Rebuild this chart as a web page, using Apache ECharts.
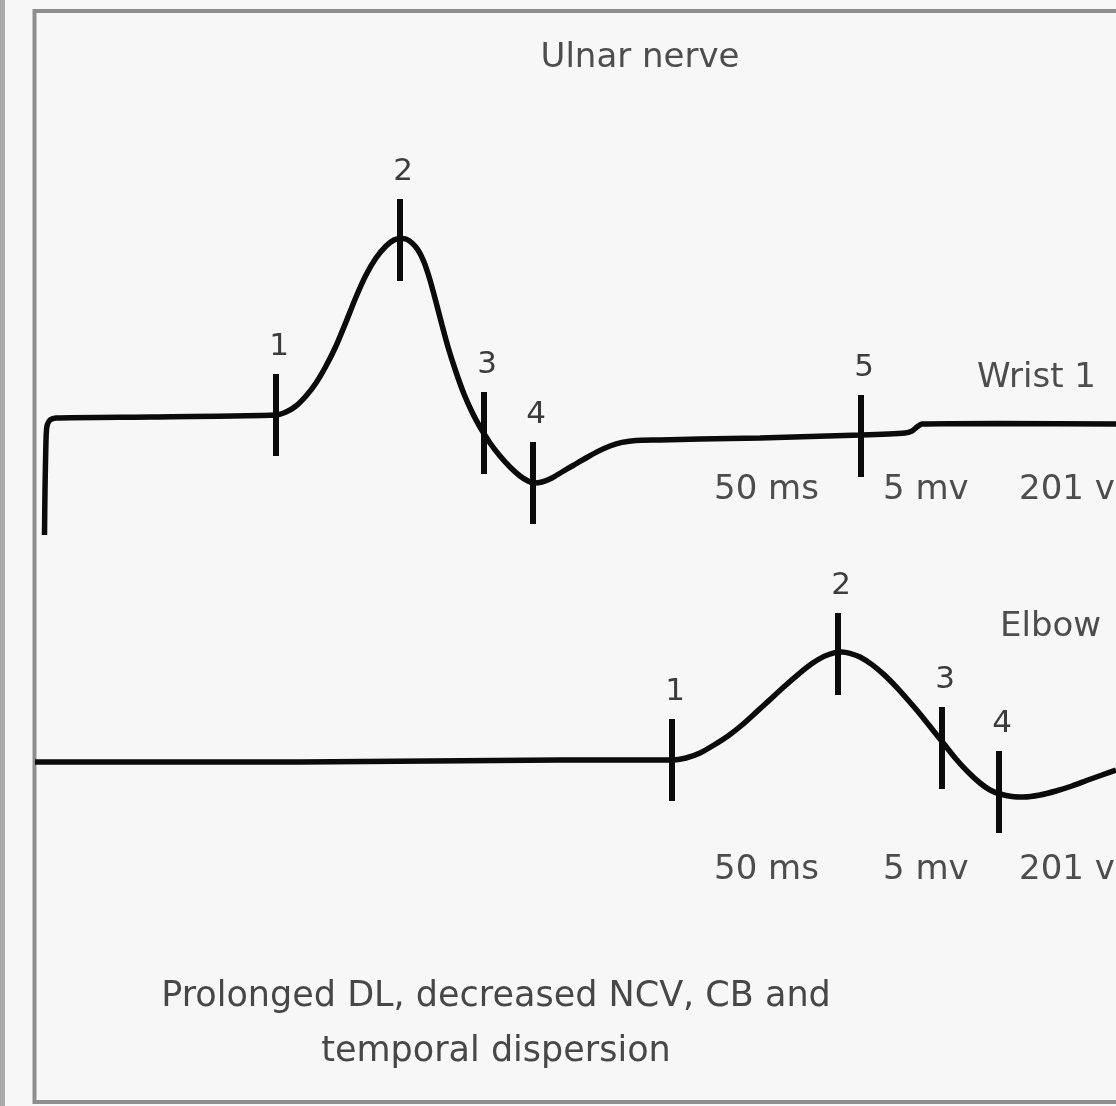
<!DOCTYPE html>
<html>
<head>
<meta charset="utf-8">
<script src="https://cdn.jsdelivr.net/npm/echarts@6/dist/echarts.min.js"></script>
<style>
html,body{margin:0;padding:0;background:#f7f7f7;}
#chart{width:1116px;height:1106px;}
</style>
</head>
<body>
<div id="chart"></div>
<script>
// ---- Data (time in arbitrary ms-like units, amplitude in mV-like units) ----
const title = 'Ulnar nerve';
const traceNames = ['Wrist 1', 'Elbow'];
const settings = ['50 ms', '5 mv', '201 v'];
const caption = ['Prolonged DL, decreased NCV, CB and', 'temporal dispersion'];

const wristTrace = [
  [0.425,-6.0],[0.45,-3.75],[0.5,-1.25],[0.55,-0.55],[0.7,-0.25],[1.0,-0.15],
  [5.7,-0.1],[12.0,0],[12.5,0.15],[13.0,0.45],[13.5,0.95],[14.0,1.6],[14.5,2.45],
  [15.0,3.45],[15.5,4.65],[16.0,5.9],[16.5,7.0],[17.0,7.85],[17.5,8.45],[17.9,8.75],
  [18.2,8.825],[18.5,8.8],[18.8,8.6],[19.1,8.25],[19.4,7.65],[19.7,6.75],[20.0,5.65],
  [20.3,4.5],[20.6,3.4],[21.0,2.15],[21.4,1.05],[21.8,0.15],[22.2,-0.6],[22.7,-1.4],
  [23.2,-2.05],[23.7,-2.6],[24.2,-3.05],[24.6,-3.3],[24.9,-3.4],[25.3,-3.35],
  [25.8,-3.15],[26.3,-2.85],[26.9,-2.5],[27.5,-2.15],[28.1,-1.82],[28.7,-1.55],
  [29.3,-1.37],[30.0,-1.27],[31.2,-1.25],[33.2,-1.2],[36.2,-1.15],[41.25,-1.0],
  [43.45,-0.9],[43.8,-0.8],[44.05,-0.6],[44.3,-0.45],[48.2,-0.425],[54.0,-0.45]
];
const wristMarkerX = [12.0, 18.2, 22.4, 24.85, 41.25];
const wristMarkerY = [0, 8.75, -0.9, -3.4, -1.05];
const wristMarkerLabels = ['1','2','3','4','5'];

const elbowTrace = [
  [-0.05,-0.1],[13.2,-0.1],[26.2,0],[31.8,0],[32.5,0.1],[33.2,0.35],[33.9,0.75],
  [34.6,1.2],[35.3,1.75],[36.0,2.38],[36.7,3.02],[37.4,3.66],[38.1,4.27],[38.8,4.82],
  [39.4,5.18],[39.9,5.36],[40.3,5.4],[40.7,5.33],[41.2,5.15],[41.8,4.77],[42.4,4.27],
  [43.0,3.67],[43.6,3.0],[44.2,2.3],[44.8,1.55],[45.4,0.8],[46.0,0.05],[46.6,-0.6],
  [47.2,-1.15],[47.7,-1.5],[48.2,-1.7],[48.8,-1.825],[49.4,-1.85],[50.2,-1.75],
  [51.0,-1.55],[51.8,-1.3],[52.6,-1.0],[53.3,-0.75],[54.0,-0.5]
];
const elbowMarkerX = [31.8, 40.1, 45.3, 48.15, 54.35];
const elbowMarkerY = [0, 5.3, 0.6, -1.6, -0.2];
const elbowMarkerLabels = ['1','2','3','4','5'];

// ---- Build chart ----
const chart = echarts.init(document.getElementById('chart'), null, {renderer:'canvas'});
const FONT = 'DejaVu Sans';
const INK = '#0b0b0b';
const TXT = '#4d4d4d';

function markers(xs, ys, labels){
  return xs.map((x,i)=>({value:[x, ys[i]], name: labels[i]}));
}
function markerSeries(idx, xs, ys, labels){
  return {
    type:'scatter', xAxisIndex: idx, yAxisIndex: idx,
    data: markers(xs, ys, labels),
    symbol:'rect', symbolSize:[6,82], clip:false,
    itemStyle:{color:INK, opacity:1},
    label:{show:true, position:'top', distance:12, offset:[3,0], formatter:'{b}',
      fontFamily:FONT, fontSize:31, color:'#3c3c3c'},
    z:3
  };
}
function lineSeries(idx, data){
  return {
    type:'line', xAxisIndex: idx, yAxisIndex: idx, data: data,
    showSymbol:false, symbol:'none', smooth:0.2, clip:false,
    lineStyle:{color:INK, width:5.5}, z:2
  };
}
const xAx = i => ({type:'value', gridIndex:i, min:0, max:54, show:false});
const yAx = i => ({type:'value', gridIndex:i, min:-7, max:15, show:false});
const txt = (t, x, y, align, size, color) => ({
  type:'text', x:x, y:y, z:10,
  style:{text:t, x:0, y:0, textAlign:align, textVerticalAlign:'middle',
    font: size+'px "'+FONT+'"', fill: color || TXT}
});

const option = {
  backgroundColor:'#f7f7f7',
  animation:false,
  grid:[
    {left:36, right:0, top:115, height:440},
    {left:36, right:0, top:460, height:440}
  ],
  xAxis:[xAx(0), xAx(1)],
  yAxis:[yAx(0), yAx(1)],
  series:[
    lineSeries(0, wristTrace),
    markerSeries(0, wristMarkerX, wristMarkerY, wristMarkerLabels),
    lineSeries(1, elbowTrace),
    markerSeries(1, elbowMarkerX, elbowMarkerY, elbowMarkerLabels)
  ],
  graphic:[
    {type:'rect', shape:{x:0,y:0,width:5,height:1106}, style:{fill:'#ababab'}, z:1},
    {type:'rect', shape:{x:34.5,y:11,width:1200,height:1091},
      style:{fill:'none', stroke:'#8e8e8e', lineWidth:4}, z:1},
    txt(title, 640, 58, 'center', 34),
    txt(traceNames[0], 977, 378, 'left', 34),
    txt(traceNames[1], 1000, 627, 'left', 34),
    txt(settings[0], 714, 490, 'left', 34),
    txt(settings[1], 883, 490, 'left', 34),
    txt(settings[2], 1019, 490, 'left', 34),
    txt(settings[0], 714, 870, 'left', 34),
    txt(settings[1], 883, 870, 'left', 34),
    txt(settings[2], 1019, 870, 'left', 34),
    txt(caption[0], 496, 997, 'center', 35, '#474747'),
    txt(caption[1], 496, 1052, 'center', 35, '#474747')
  ]
};
chart.setOption(option);
</script>
</body>
</html>
